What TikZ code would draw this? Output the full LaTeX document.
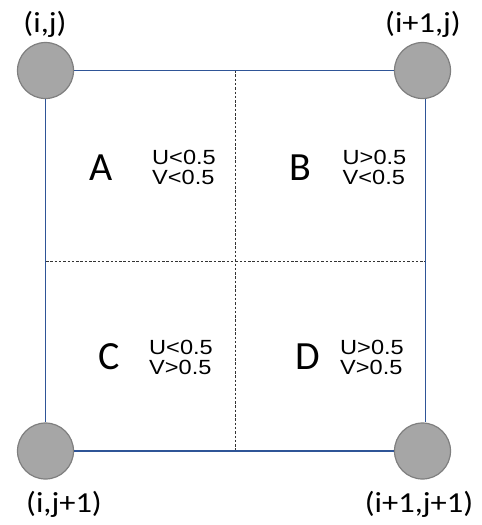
\documentclass[tikz,border=0pt]{standalone}
\usepackage{fontspec}
\setmainfont{Carlito}
\newfontfamily\uvfont[FakeStretch=1.15]{Liberation Sans}
\newfontfamily\idxfont[FakeStretch=1.12]{Carlito}
\definecolor{edgeblue}{HTML}{2F5597}
\definecolor{dotfill}{HTML}{A6A6A6}
\definecolor{dotline}{HTML}{7F7F7F}
\begin{document}
\begin{tikzpicture}[x=1pt,y=-1pt,
  gridpt/.style={circle,draw=dotline,fill=dotfill,line width=1.2pt,minimum size=56pt,inner sep=0pt},
  cornerlabel/.style={font=\idxfont\fontsize{29}{32}\selectfont,inner sep=0pt},
  cellletter/.style={font=\fontsize{40}{44}\selectfont,inner sep=0pt},
  cond/.style={font=\uvfont\fontsize{20.5}{20}\selectfont,align=left,inner sep=0pt},
  side/.style={draw=edgeblue,line width=1.8pt},
  divider/.style={draw=black!80,line width=0.6pt,dash pattern=on 2.5pt off 1.8pt}]
\useasboundingbox (0,0) rectangle (482,525);
% dashed quadrant dividers
\coordinate (vt) at (235.5,70);
\coordinate (vb) at (235.5,451);
\coordinate (hl) at (46,261.5);
\coordinate (hr) at (426,261.5);
\draw[divider] (vt) -- (vb);
\draw[divider] (hl) -- (hr);
% grid points at the cell corners
\node[gridpt] (tl) at (45.5,70.5) {};
\node[gridpt] (tr) at (422.5,70.5) {};
\node[gridpt] (bl) at (45.5,451) {};
\node[gridpt] (br) at (422.5,451) {};
% cell sides
\draw[side] (tl.east) -- (tr.west);
\draw[side] (bl.east) -- (br.west);
\draw[side] (tl.south) -- (bl.north);
\draw[side] ([xshift=3pt]tr.south) -- ([xshift=3pt]br.north);
% corner labels
\node[cornerlabel] (ltl) at (45,24) {(i,j)};
\node[cornerlabel] (ltr) at (423,24) {(i+1,j)};
\node[cornerlabel] (lbl) at (64,504) {(i,j+1)};
\node[cornerlabel] (lbr) at (419,504) {(i+1,j+1)};
% quadrant letters
\node[cellletter] (qa) at (101,168) {A};
\node[cellletter] (qb) at (300,168) {B};
\node[cellletter] (qc) at (109,357) {C};
\node[cellletter] (qd) at (308,357) {D};
% velocity conditions
\node[cond] (ca) at (184,167) {U<0.5\\V<0.5};
\node[cond] (cb) at (374.5,167) {U>0.5\\V<0.5};
\node[cond] (cc) at (181,357) {U<0.5\\V>0.5};
\node[cond] (cd) at (372,357) {U>0.5\\V>0.5};
\end{tikzpicture}
\end{document}
